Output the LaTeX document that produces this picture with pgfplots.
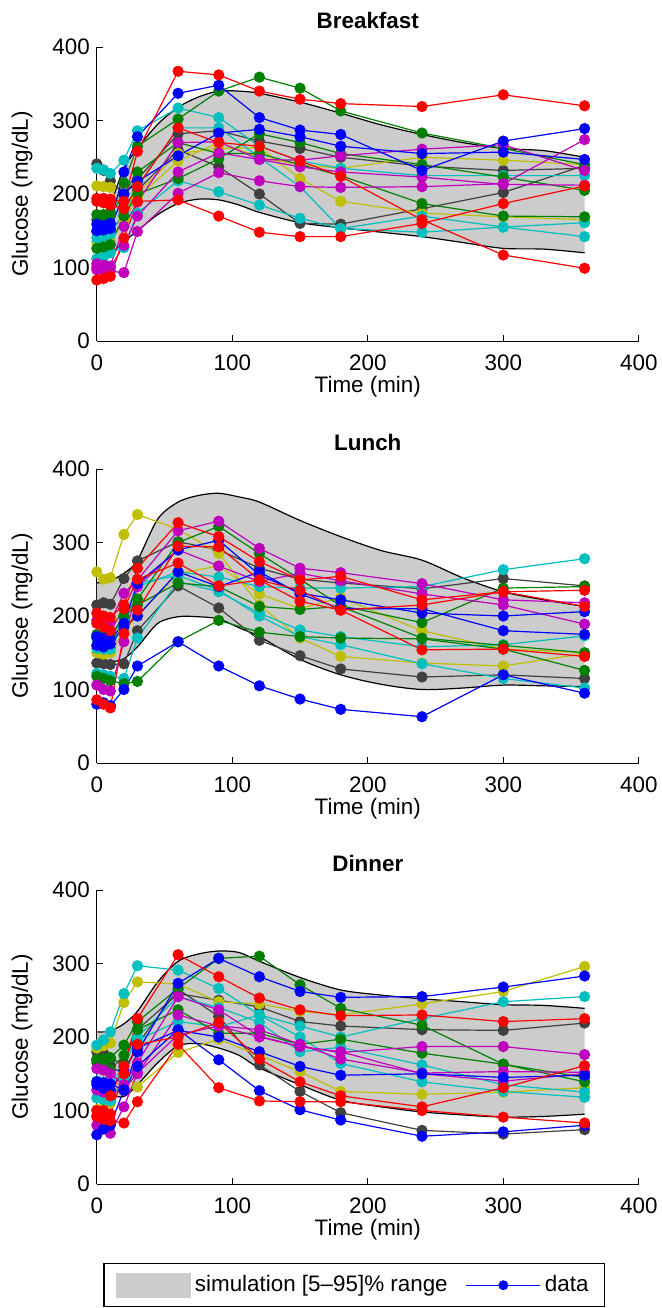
\documentclass[border=0pt]{standalone}
\usepackage{fontspec}
\setmainfont{Liberation Sans}
\usepackage{pgfplots}
\usepackage{pgfplotstable}
\pgfplotsset{compat=1.18}
\usepgfplotslibrary{fillbetween}

% MATLAB-style line colours
\definecolor{mred}{rgb}{1,0,0}
\definecolor{mgreen}{rgb}{0,0.5,0}
\definecolor{mblue}{rgb}{0,0,1}
\definecolor{mcyan}{rgb}{0,0.75,0.75}
\definecolor{mmag}{rgb}{0.75,0,0.75}
\definecolor{myel}{rgb}{0.75,0.75,0}
\definecolor{mgray}{rgb}{0.25,0.25,0.25}
\definecolor{bandgray}{rgb}{0.8,0.8,0.8}

\newcommand{\lbl}{\fontsize{11.2}{13.4}\selectfont}

% simulation [5-95]% envelopes
\pgfplotstableread{
t   lo  hi
0   110 160
5   112 170
10  118 185
20  135 235
30  150 262
45  172 295
60  187 318
75  193 332
90  192 340
105 185 340
120 175 337
150 161 325
180 154 310
210 148 294
240 142 281
270 134 270
300 126 262
330 125 259
360 120 250
}\bandB
\pgfplotstableread{
t   lo  hi
0   135 245
5   136 246
10  137 248
20  142 258
30  158 276
45  190 332
60  199 355
75  199 364
90  196 367
105 184 362
120 172 355
150 141 330
180 120 308
210 107 289
240 100 276
270 102 252
300 106 233
330 105 222
360 104 213
}\bandL
\pgfplotstableread{
t   lo  hi
0   125 207
5   123 207
10  121 208
20  119 218
30  135 235
45  165 275
60  188 303
75  191 313
90  185 317
105 175 315
120 158 303
150 135 281
180 114 264
210 105 257
240 98  252
270 94  248
300 91  244
330 92  243
360 95  239
}\bandD

% measured glucose, one column per subject
\pgfplotstableread{
t   s1  s2  s3  s4  s5  s6  s7  s8  s9  s10 s11 s12 s13 s14 s15 s16 s17 s18
0   194 159 150 172 126 165 235 112 140 241 149 211 135 97  100 83  190 105
5   194 157 151 172 128 168 233 114 142 232 148 210 134 96  100 85  188 103
10  193 160 153 175 131 172 228 120 145 218 150 209 136 95  102 88  185 100
20  190 230 200 215 170 200 246 127 175 200 170 174 165 93  156 140 180 130
30  258 278 217 265 200 230 286 174 210 220 205 201 195 149 189 190 210 170
60  367 337 252 302 221 270 317 218 290 282 260 255 245 201 270 192 290 230
90  362 348 283 340 248 255 304 203 290 286 237 262 270 229 271 170 270 256
120 340 304 288 359 282 255 265 185 250 272 200 263 250 218 247 148 265 247
150 329 287 278 344 270 240 245 167 210 262 160 221 240 210 246 142 245 237
180 323 281 265 313 255 225 235 153 153 250 159 190 235 209 252 142 224 230
240 319 232 255 283 240 187 225 170 148 238 180 174 250 210 261 160 165 223
300 335 272 257 262 223 170 225 155 155 232 202 169 246 214 267 187 117 213
360 320 289 247 240 205 169 225 161 142 235 239 165 240 274 232 211 99  212
}\breakfast

\pgfplotstableread{
t   s1  s2  s3  s4  s5  s6  s7  s8  s9  s10 s11 s12 s13 s14 s15 s16 s17 s18
0   260 80  118 194 204 215 136 156 122 160 170 86  172 106 150 190 160 175
5   250 82  115 190 200 218 135 155 120 158 172 80  170 100 148 185 158 173
10  252 78  112 192 198 216 134 157 118 155 170 75  168 98  150 180 162 172
20  311 100 108 231 215 251 135 197 115 190 200 176 190 165 180 210 185 200
30  338 132 111 249 265 275 180 240 170 245 223 208 244 240 200 250 200 215
60  318 165 165 316 327 301 241 260 247 255 300 295 290 290 258 272 260 245
90  285 132 194 329 308 290 211 253 233 235 322 294 303 268 268 241 240 240
120 215 105 178 292 274 265 167 240 204 200 285 249 256 247 230 249 260 213
150 170 87  172 265 249 250 146 238 181 172 250 235 231 258 210 220 230 209
180 145 73  170 259 254 245 128 238 172 161 214 208 222 248 225 208 210 213
240 136 63  169 244 222 237 117 240 158 135 191 215 204 230 180 154 210 170
300 132 120 155 222 233 251 120 263 161 115 238 233 200 215 155 155 180 160
360 149 95  126 218 235 241 115 278 173 102 240 213 206 189 150 145 175 150
}\lunch

\pgfplotstableread{
t   s1  s2  s3  s4  s5  s6  s7  s8  s9  s10 s11 s12 s13 s14 s15 s16 s17 s18
0   189 185 92  169 139 180 170 157 80  117 67  92  101 165 100 140 135 128
5   196 188 100 170 138 178 165 155 75  115 75  88  105 160 98  138 130 125
10  207 192 120 172 136 170 160 150 69  113 80  86  110 155 95  135 128 122
20  259 247 160 189 128 164 150 135 105 144 128 83  150 175 150 160 155 130
30  297 275 225 221 180 210 190 165 151 196 160 112 132 210 190 200 185 150
60  291 272 312 266 273 259 265 255 203 221 210 190 179 237 200 255 209 230
90  266 248 282 307 307 250 228 237 215 214 169 131 197 205 220 240 200 215
120 230 245 253 310 282 241 162 201 210 230 127 113 175 205 170 220 180 200
150 215 235 237 271 262 221 126 187 190 200 101 112 153 190 139 180 160 187
180 200 230 229 239 254 215 97  179 170 164 87  112 126 197 120 186 148 180
240 225 245 230 216 255 210 73  187 151 139 65  100 122 178 105 162 150 150
300 248 262 221 163 268 209 68  187 153 126 71  91  125 163 131 135 145 140
360 255 296 225 139 283 219 74  176 152 118 80  83  131 145 161 125 148 150
}\dinner

\pgfplotsset{
  glucose/.style={
    scale only axis, width=271pt, height=147pt,
    xmin=0, xmax=400, ymin=0, ymax=400,
    xtick={0,100,200,300,400}, ytick={0,100,200,300,400},
    axis x line*=bottom, axis y line*=left,
    axis line style={line width=0.5pt, black, -},
    tick align=inside, major tick length=3pt,
    tick style={line width=0.5pt, black},
    clip=false,
    /pgf/number format/assume math mode=true,
    ticklabel style={font=\lbl},
    xticklabel style={yshift=-3.5pt},
    label style={font=\lbl},
    xlabel={Time (min)}, ylabel={Glucose (mg/dL)},
    xlabel style={at={(axis description cs:0.5,-0.1551)}, anchor=center},
    ylabel style={at={(axis description cs:-0.138,0.5)}, anchor=center},
    title style={font=\lbl\bfseries, at={(axis description cs:0.5,1.051)},
      anchor=center, yshift=0pt},
  },
  gl/.style={line width=0.6pt, mark=*, mark size=2.5pt, mark options={solid}},
  edge/.style={black, line width=0.6pt, smooth, tension=0.5, no markers},
  hidden/.style={draw=none, smooth, tension=0.5, no markers},
}

% simulation envelope of one meal
\newcommand{\envelope}[1]{%
  \addplot[hidden, name path=hi] table[x=t, y=hi] {#1};
  \addplot[hidden, name path=lo] table[x=t, y=lo] {#1};
  \addplot[bandgray, draw=none] fill between[of=hi and lo];
  \addplot[edge] table[x=t, y=hi] {#1};
  \addplot[edge] table[x=t, y=lo] {#1};
}
% one subject: colour, column, table
\newcommand{\subj}[3]{\addplot[gl, #1] table[x=t, y=#2] {#3};}

\begin{document}
\begin{tikzpicture}

\begin{axis}[glucose, at={(48.4pt,-170.5pt)}, anchor=south west, title={Breakfast}]
\envelope{\bandB}
\subj{mgray}{s10}{\breakfast}
\subj{mgray}{s11}{\breakfast}
\subj{myel}{s12}{\breakfast}
\subj{myel}{s13}{\breakfast}
\subj{mcyan}{s7}{\breakfast}
\subj{mcyan}{s8}{\breakfast}
\subj{mcyan}{s9}{\breakfast}
\subj{mgreen}{s4}{\breakfast}
\subj{mgreen}{s5}{\breakfast}
\subj{mgreen}{s6}{\breakfast}
\subj{mmag}{s14}{\breakfast}
\subj{mmag}{s15}{\breakfast}
\subj{mmag}{s18}{\breakfast}
\subj{mblue}{s2}{\breakfast}
\subj{mblue}{s3}{\breakfast}
\subj{mred}{s1}{\breakfast}
\subj{mred}{s16}{\breakfast}
\subj{mred}{s17}{\breakfast}
\end{axis}

\begin{axis}[glucose, at={(48.4pt,-381.5pt)}, anchor=south west, title={Lunch}]
\envelope{\bandL}
\subj{mgray}{s6}{\lunch}
\subj{mgray}{s7}{\lunch}
\subj{myel}{s1}{\lunch}
\subj{myel}{s15}{\lunch}
\subj{mcyan}{s8}{\lunch}
\subj{mcyan}{s9}{\lunch}
\subj{mcyan}{s10}{\lunch}
\subj{mgreen}{s3}{\lunch}
\subj{mgreen}{s11}{\lunch}
\subj{mgreen}{s18}{\lunch}
\subj{mmag}{s4}{\lunch}
\subj{mmag}{s14}{\lunch}
\subj{mblue}{s2}{\lunch}
\subj{mblue}{s13}{\lunch}
\subj{mblue}{s17}{\lunch}
\subj{mred}{s5}{\lunch}
\subj{mred}{s12}{\lunch}
\subj{mred}{s16}{\lunch}
\end{axis}

\begin{axis}[glucose, at={(48.4pt,-592pt)}, anchor=south west, title={Dinner},
  legend columns=2,
  legend style={at={(axis description cs:0.475,-0.2687)}, anchor=north,
    draw=black, line width=0.6pt, fill=white, font=\lbl,
    inner xsep=6pt, inner ysep=4pt,
    /tikz/every even column/.append style={column sep=7pt}},
  legend cell align=left]
\addlegendimage{legend image code/.code={\path[fill=bandgray, draw=none] (0pt,-6.25pt) rectangle (37.5pt,6.25pt);}}
\addlegendentry{simulation [5\textendash 95]\% range}
\addlegendimage{legend image code/.code={\path[draw=mblue, fill=none, line width=0.6pt] (0pt,0pt) -- (37pt,0pt); \path[fill=mblue, draw=none] (18.5pt,0pt) circle (2.5pt);}}
\addlegendentry{data}
\envelope{\bandD}
\subj{mgray}{s6}{\dinner}
\subj{mgray}{s7}{\dinner}
\subj{myel}{s2}{\dinner}
\subj{myel}{s13}{\dinner}
\subj{mcyan}{s1}{\dinner}
\subj{mcyan}{s10}{\dinner}
\subj{mcyan}{s16}{\dinner}
\subj{mgreen}{s4}{\dinner}
\subj{mgreen}{s14}{\dinner}
\subj{mmag}{s8}{\dinner}
\subj{mmag}{s9}{\dinner}
\subj{mmag}{s18}{\dinner}
\subj{mblue}{s5}{\dinner}
\subj{mblue}{s11}{\dinner}
\subj{mblue}{s17}{\dinner}
\subj{mred}{s3}{\dinner}
\subj{mred}{s12}{\dinner}
\subj{mred}{s15}{\dinner}
\end{axis}

% fixed page frame
\pgfresetboundingbox
\path[use as bounding box] (0pt,0pt) rectangle (331pt,-654pt);
\end{tikzpicture}
\end{document}
